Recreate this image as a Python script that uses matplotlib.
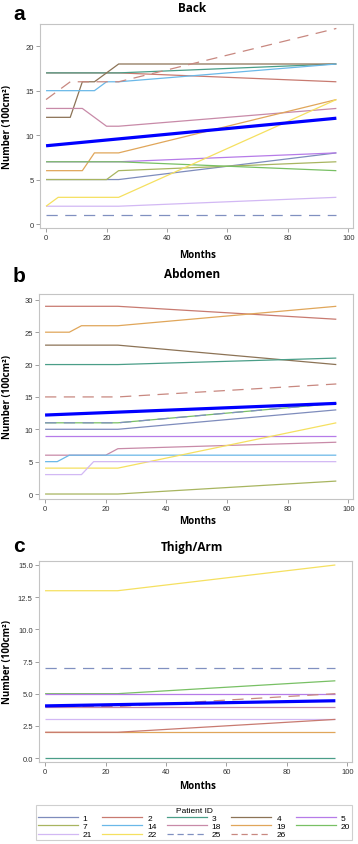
#!/usr/bin/env python3
"""Patient lesion area over time: Back / Abdomen / Thigh-Arm panels."""

import matplotlib
matplotlib.use('Agg')
import matplotlib.pyplot as plt
from matplotlib.lines import Line2D

W, H = 358, 845

# patient id -> colour, style
PATIENT_IDS = [1, 2, 3, 4, 5, 7, 14, 18, 19, 20, 21, 22, 25, 26]
COLORS = {
    1: '#7e8cbc', 2: '#c87a70', 3: '#4a9e88', 4: '#8c7356', 5: '#b67be8',
    7: '#a8b560', 14: '#6ab8e8', 18: '#c88aa8', 19: '#e0a65a', 20: '#78c064',
    21: '#d2b8f4', 22: '#f5e060', 25: '#8090c0', 26: '#c88880',
}
DASHED = {25, 26}

# --- panel a: Back (months, values)
BACK_X = {
    1: [0, 24, 96], 2: [0, 24, 96], 3: [0, 24, 96], 4: [0, 8, 12, 16, 24, 96],
    5: [0, 24, 96], 7: [0, 20, 24, 96], 14: [0, 16, 20, 24, 96],
    18: [0, 12, 20, 24, 96], 19: [0, 12, 16, 24, 96], 20: [0, 24, 96],
    21: [0, 24, 96], 22: [0, 4, 24, 96], 25: [0, 96], 26: [0, 8, 24, 96],
}
BACK_Y = {
    1: [5, 5, 8], 2: [17, 17, 16], 3: [17, 17, 18], 4: [12, 12, 16, 16, 18, 18],
    5: [7, 7, 8], 7: [5, 5, 6, 7], 14: [15, 15, 16, 16, 18],
    18: [13, 13, 11, 11, 13], 19: [6, 6, 8, 8, 14], 20: [7, 7, 6],
    21: [2, 2, 3], 22: [2, 3, 3, 14], 25: [1, 1], 26: [14, 16, 16, 22],
}
BACK_MEAN_X = [0, 96]
BACK_MEAN_Y = [8.8, 11.9]

# --- panel b: Abdomen
ABD_X = {
    2: [0, 24, 96], 19: [0, 8, 12, 24, 96], 4: [0, 24, 96], 3: [0, 24, 96],
    26: [0, 24, 96], 20: [0, 24, 96], 25: [0, 24, 96], 1: [0, 24, 96],
    5: [0, 96], 18: [0, 20, 24, 96], 14: [0, 4, 8, 96], 22: [0, 24, 96],
    21: [0, 12, 16, 96], 7: [0, 24, 96],
}
ABD_Y = {
    2: [29, 29, 27], 19: [25, 25, 26, 26, 29], 4: [23, 23, 20], 3: [20, 20, 21],
    26: [15, 15, 17], 20: [11, 11, 14], 25: [11, 11, 14], 1: [10, 10, 13],
    5: [9, 9], 18: [6, 6, 7, 8], 14: [5, 5, 6, 6], 22: [4, 4, 11],
    21: [3, 3, 5, 5], 7: [0, 0, 2],
}
ABD_MEAN_X = [0, 96]
ABD_MEAN_Y = [12.2, 14.0]

# --- panel c: Thigh/Arm
LIMB_X = {
    22: [0, 24, 96], 25: [0, 96], 20: [0, 24, 96], 5: [0, 96],
    26: [0, 24, 96], 18: [0, 96], 21: [0, 96], 19: [0, 96],
    2: [0, 24, 96], 3: [0, 96],
}
LIMB_Y = {
    22: [13, 13, 15], 25: [7, 7], 20: [5, 5, 6], 5: [5, 5],
    26: [4, 4, 5], 18: [4, 4], 21: [3, 3], 19: [2, 2],
    2: [2, 2, 3], 3: [0, 0],
}
LIMB_MEAN_X = [0, 96]
LIMB_MEAN_Y = [4.05, 4.45]

X_TICKS = [0, 20, 40, 60, 80, 100]

TICK_FONT = 'Liberation Sans'
HEAD_FONT = 'Open Sans'


def ax_rect(left, top, right, bottom):
    return [left / W, 1 - bottom / H, (right - left) / W, (bottom - top) / H]


def draw_panel(fig, rect, xs, ys, mx, my, ylim, yticks, yfmt):
    ax = fig.add_axes(rect)
    for pid in xs:
        ls = (0, (9, 6)) if pid in DASHED else '-'
        ax.plot(xs[pid], ys[pid], color=COLORS[pid], lw=0.9, ls=ls,
                solid_capstyle='butt')
    ax.plot(mx, my, color='#0000ff', lw=2.3, solid_capstyle='butt')
    ax.set_xlim(-2, 101.5)
    ax.set_ylim(*ylim)
    ax.set_xticks(X_TICKS)
    ax.set_yticks(yticks)
    ax.set_yticklabels([yfmt.format(v) for v in yticks])
    for s in ax.spines.values():
        s.set_color('#c4c4c4')
        s.set_linewidth(0.8)
    ax.tick_params(length=3, width=0.6, color='#909090', labelsize=5.5,
                   labelcolor='#333333', pad=1.5)
    for lab in ax.get_xticklabels() + ax.get_yticklabels():
        lab.set_fontfamily(TICK_FONT)
    return ax


def label(fig, x, y, text, size, rot=0, family=HEAD_FONT):
    fig.text(x / W, 1 - y / H, text, ha='center', va='center', rotation=rot,
             fontsize=size, fontweight='bold', family=family)


def main():
    fig = plt.figure(figsize=(W / 100, H / 100), dpi=100)

    draw_panel(fig, ax_rect(40, 25, 353, 229), BACK_X, BACK_Y,
               BACK_MEAN_X, BACK_MEAN_Y, (-0.45, 22.5), [0, 5, 10, 15, 20], '{:g}')
    draw_panel(fig, ax_rect(39, 295, 353, 500), ABD_X, ABD_Y,
               ABD_MEAN_X, ABD_MEAN_Y, (-0.77, 30.9), [0, 5, 10, 15, 20, 25, 30], '{:g}')
    draw_panel(fig, ax_rect(39, 562, 352, 763), LIMB_X, LIMB_Y,
               LIMB_MEAN_X, LIMB_MEAN_Y, (-0.31, 15.31),
               [0, 2.5, 5, 7.5, 10, 12.5, 15], '{:.1f}')

    # titles, panel letters, axis labels
    for (title, ty, my, yc) in [('Back', 9, 256, 127),
                                ('Abdomen', 275, 521, 397),
                                ('Thigh/Arm', 547, 787, 662)]:
        label(fig, 192, ty, title, 8.5)
        label(fig, 198, my, 'Months', 7)
        label(fig, 8, yc, 'Number (100cm²)', 7, rot=90)
    for letter, ly in [('a', 14), ('b', 276), ('c', 547)]:
        label(fig, 19, ly, letter, 15, family='Liberation Sans')

    # legend, filled row-major across 5 columns
    handles = {}
    for pid in PATIENT_IDS:
        ls = (0, (5, 3)) if pid in DASHED else '-'
        handles[pid] = Line2D([], [], color=COLORS[pid], lw=0.9, ls=ls)
    ncol = 5
    order = []
    for c in range(ncol):
        for r in range(3):
            i = r * ncol + c
            if i < len(PATIENT_IDS):
                order.append(PATIENT_IDS[i])
    leg = fig.legend([handles[p] for p in order], [str(p) for p in order],
                     ncol=ncol, loc='upper left',
                     bbox_to_anchor=(36 / W, 1 - 843 / H, 316 / W, 37 / H),
                     mode='expand', title='Patient ID', frameon=True,
                     fancybox=False, borderpad=0.2, labelspacing=0.05,
                     handlelength=4.8, handletextpad=0.6, columnspacing=1.2,
                     borderaxespad=0,
                     prop={'family': TICK_FONT, 'size': 6},
                     title_fontproperties={'family': TICK_FONT, 'size': 6})
    leg.get_frame().set_edgecolor('#c4c4c4')
    leg.get_frame().set_linewidth(0.8)

    fig.savefig('out.png', dpi=100)


if __name__ == '__main__':
    main()
